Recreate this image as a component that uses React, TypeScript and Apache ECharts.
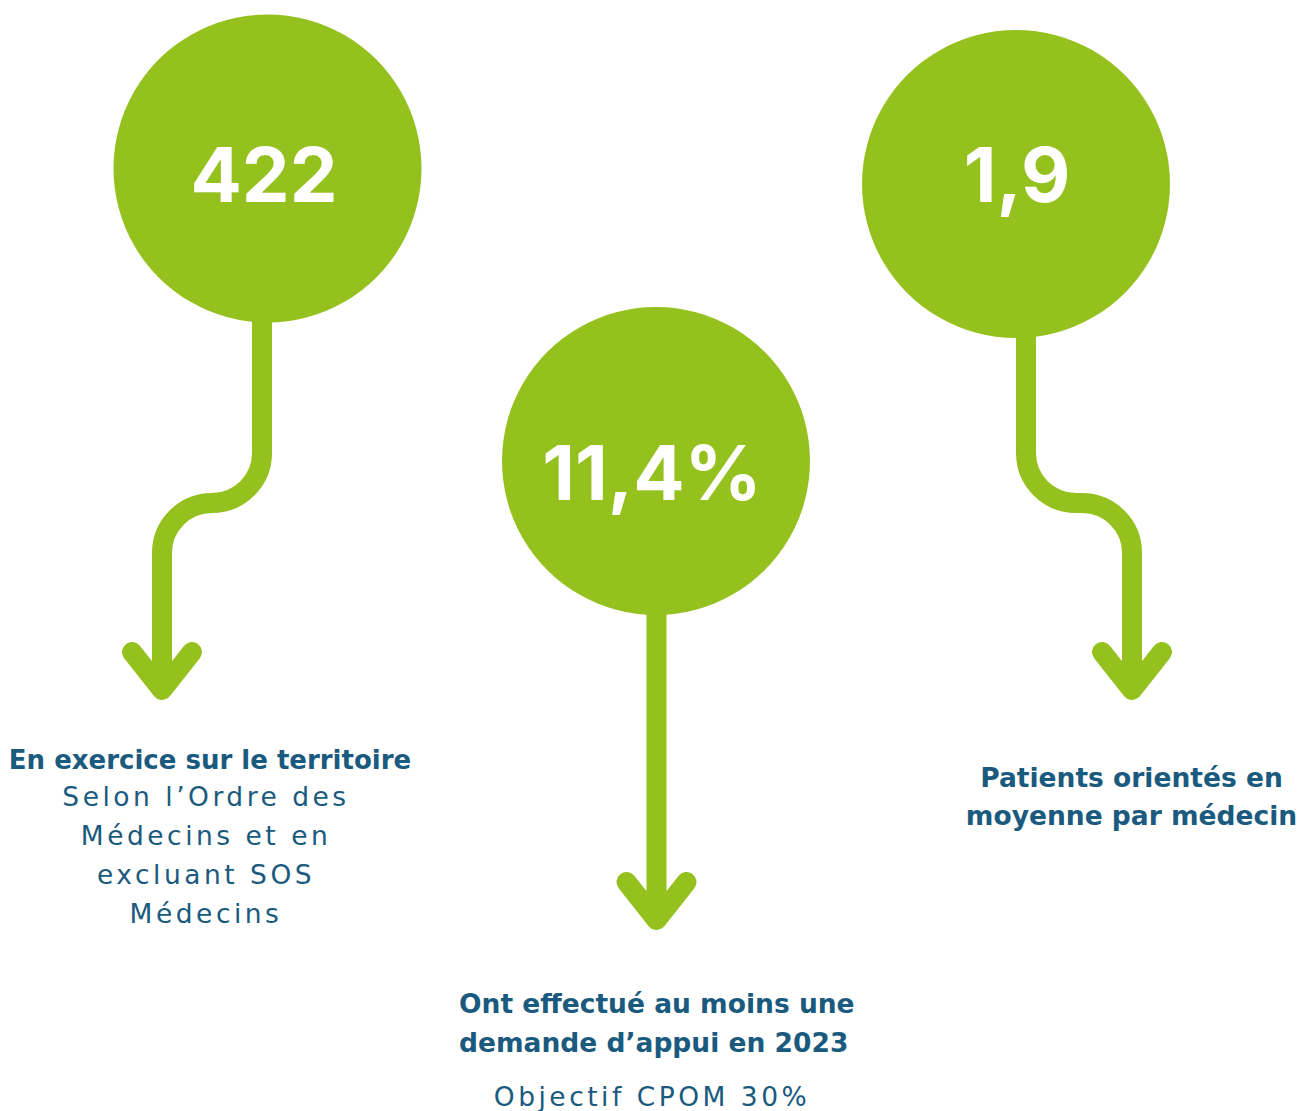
import React, { useEffect, useRef } from "react";
import * as echarts from "echarts";

// ---- data ----
const values = ["422", "11,4%", "1,9"];
const headings = [
  ["En exercice sur le territoire"],
  ["Ont effectué au moins une", "demande d’appui en 2023"],
  ["Patients orientés en", "moyenne par médecin"],
];
const notes = [
  ["Selon l’Ordre des", "Médecins et en", "excluant SOS", "Médecins"],
  ["Objectif CPOM 30%"],
  [] as string[],
];

// ---- layout / style ----
const GREEN = "#95C11F";
const BLUE = "#1A5A7E";
const R = 154;
const circles = [
  { cx: 267.5, cy: 168.5 },
  { cx: 656, cy: 461 },
  { cx: 1016, cy: 184 },
];
const numberPos = [
  { x: 264, y: 174 },
  { x: 652, y: 472 },
  { x: 1017, y: 174 },
];
const arrowPaths = [
  "M 262 300 L 262 453 A 50 50 0 0 1 212 503 A 50 50 0 0 0 162 553 L 162 688 M 132 652 L 162 690 L 192 652",
  "M 656.5 600 L 656.5 918 M 626.5 882 L 656.5 920 L 686.5 882",
  "M 1026 320 L 1026 453 A 50 50 0 0 0 1076 503 L 1082 503 A 50 50 0 0 1 1132 553 L 1132 688 M 1102 652 L 1132 690 L 1162 652",
];
const headingLayout = [
  { x: 210, y: 760, lh: 39, align: "center", size: 26 },
  { x: 459, y: 1003, lh: 39, align: "left", size: 26.5 },
  { x: 1131.5, y: 777, lh: 38, align: "center", size: 26.5 },
];
const noteLayout = [
  { x: 206, y: 796, lh: 39 },
  { x: 652, y: 1096, lh: 39 },
  { x: 1131, y: 860, lh: 39 },
];
const NOTE_SIZE = 26.5;
const NOTE_SPACING = 3.5;

export default function App() {
  const ref = useRef<HTMLDivElement>(null);
  useEffect(() => {
    if (!ref.current) return;
    const chart = echarts.init(ref.current, null, { renderer: "svg" });
    arrowPaths.forEach((d, i) => {
      echarts.graphic.registerShape("arrow" + i, echarts.graphic.extendPath(d, {}) as any);
    });
    const elements: any[] = [];
    arrowPaths.forEach((_, i) => {
      elements.push({
        type: "arrow" + i,
        x: 0,
        y: 0,
        style: {
          fill: null,
          stroke: GREEN,
          lineWidth: 20,
          lineCap: "round",
          lineJoin: "round",
        },
      });
    });
    circles.forEach((c) => {
      elements.push({
        type: "circle",
        shape: { cx: c.cx, cy: c.cy, r: R },
        style: { fill: GREEN },
      });
    });
    values.forEach((v, i) => {
      elements.push({
        type: "text",
        x: numberPos[i].x,
        y: numberPos[i].y,
        style: {
          text: v,
          fill: "#ffffff",
          font: "bold 76px Inter",
          align: "center",
          verticalAlign: "middle",
          textAlign: "center",
          textVerticalAlign: "middle",
        },
      });
    });
    headings.forEach((lines, i) => {
      const L = headingLayout[i];
      lines.forEach((t, j) => {
        elements.push({
          type: "text",
          x: L.x,
          y: L.y + j * L.lh,
          style: {
            text: t,
            fill: BLUE,
            font: `bold ${L.size}px 'DejaVu Sans'`,
            align: L.align,
            verticalAlign: "middle",
            textAlign: L.align,
            textVerticalAlign: "middle",
          },
        });
      });
    });
    const noteSet = new Set<string>();
    notes.forEach((lines, i) => {
      const L = noteLayout[i];
      lines.forEach((t, j) => {
        noteSet.add(t);
        elements.push({
          type: "text",
          x: L.x,
          y: L.y + j * L.lh,
          style: {
            text: t,
            fill: BLUE,
            font: `${NOTE_SIZE}px 'DejaVu Sans'`,
            align: "center",
            verticalAlign: "middle",
            textAlign: "center",
            textVerticalAlign: "middle",
          },
        });
      });
    });
    chart.setOption({
      animation: false,
      backgroundColor: "#ffffff",
      graphic: { elements },
    });
    const valueSet = new Set(values);
    const apply = () => {
      ref.current?.querySelectorAll("text").forEach((el) => {
        const t = (el.textContent || "").trim();
        if (noteSet.has(t)) {
          (el as SVGTextElement).style.letterSpacing = NOTE_SPACING + "px";
        } else if (valueSet.has(t)) {
          (el as SVGTextElement).style.fontVariantNumeric = "proportional-nums";
        }
      });
    };
    apply();
    chart.on("finished", apply);
    const timer = setTimeout(apply, 30);
    return () => {
      clearTimeout(timer);
      chart.dispose();
    };
  }, []);
  return (
    <div
      ref={ref}
      style={{ position: "absolute", left: 0, top: 0, width: 1302, height: 1111 }}
    />
  );
}
